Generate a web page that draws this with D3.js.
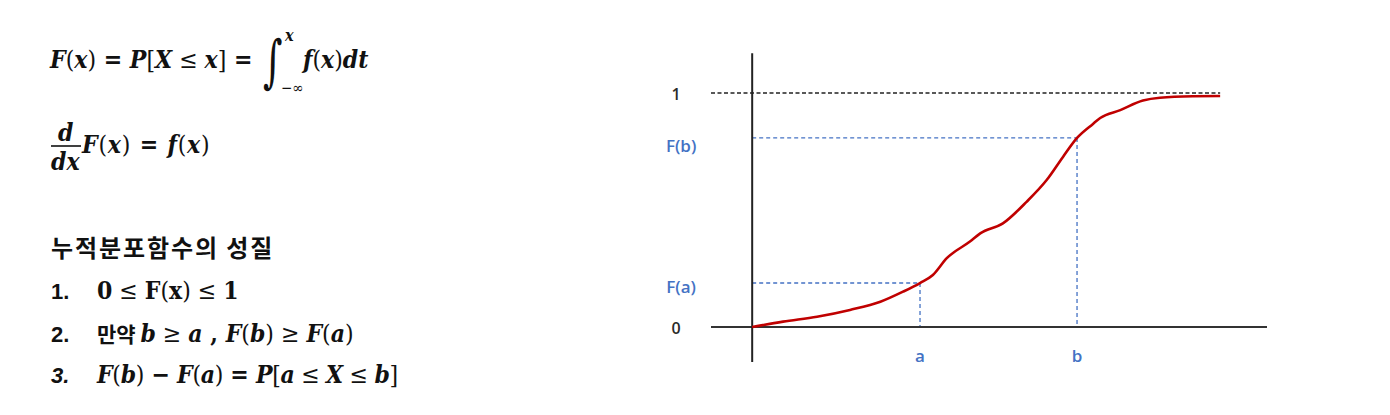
<!DOCTYPE html>
<html><head><meta charset="utf-8">
<script src="https://cdn.jsdelivr.net/npm/d3@7"></script>
<style>
body{margin:0;background:#fff}
svg{display:block}
.v{font-weight:bold;font-style:italic}
.p{font-weight:normal;font-style:normal}
.o{font-weight:bold;font-style:normal}
</style></head><body>
<svg id="c" width="1390" height="415"></svg>
<script>
// ---- data ----
const curveX = [0, 0.60, 1.26, 1.90, 2.49, 2.93, 3.26, 3.51, 3.78, 4.23, 4.43, 4.87, 5.33, 5.72, 6.04, 6.31, 6.62, 6.76, 7.15, 7.59, 7.92, 8.56, 9.09];
const curveY = [0, 0.023, 0.044, 0.073, 0.108, 0.151, 0.188, 0.222, 0.294, 0.365, 0.400, 0.443, 0.535, 0.628, 0.728, 0.808, 0.868, 0.893, 0.927, 0.968, 0.980, 0.986, 0.987];
const markerX = [3.26, 6.31];
const markerY = [0.188, 0.808];
const markerXLabels = ["a", "b"];
const markerYLabels = ["F(a)", "F(b)"];
const yTickValues = [0, 1];
const yTickLabels = ["0", "1"];
const heading = "누적분포함수의 성질";

const svg = d3.select("#c");
const x = d3.scaleLinear().domain([-0.8, 10]).range([711, 1267]);
const y = d3.scaleLinear().domain([0, 1]).range([327, 93]);

// ---- chart ----
const g = svg.append("g");
g.append("line").attr("x1", x(-0.8)).attr("x2", x(9.09)).attr("y1", y(1)).attr("y2", y(1))
  .attr("stroke", "#222").attr("stroke-width", 1.5).attr("stroke-dasharray", "4,2.5");
markerX.forEach((mx, i) => {
  const my = markerY[i];
  g.append("line").attr("x1", x(0)).attr("x2", x(mx)).attr("y1", y(my)).attr("y2", y(my))
    .attr("stroke", "#4472c4").attr("stroke-width", 1.3).attr("stroke-dasharray", "4,3");
  g.append("line").attr("x1", x(mx)).attr("x2", x(mx)).attr("y1", y(my)).attr("y2", y(0))
    .attr("stroke", "#4472c4").attr("stroke-width", 1.3).attr("stroke-dasharray", "4,3");
});
g.append("line").attr("x1", x(-0.8)).attr("x2", x(10)).attr("y1", y(0)).attr("y2", y(0))
  .attr("stroke", "#333").attr("stroke-width", 2);
g.append("line").attr("x1", x(0)).attr("x2", x(0)).attr("y1", y(-0.15)).attr("y2", y(1.17))
  .attr("stroke", "#222").attr("stroke-width", 2);
const pts = curveX.map((d, i) => [d, curveY[i]]);
g.append("path").datum(pts)
  .attr("d", d3.line().x(d => x(d[0])).y(d => y(d[1])).curve(d3.curveMonotoneX))
  .attr("fill", "none").attr("stroke", "#c00000").attr("stroke-width", 2.6).attr("stroke-linejoin", "round");
const lblFont = "'Open Sans', 'Liberation Sans', sans-serif";
yTickValues.forEach((v, i) => {
  g.append("text").attr("x", x(-1.48)).attr("y", y(v) + 7).attr("text-anchor", "middle")
    .attr("font-family", lblFont).attr("font-size", 16).attr("font-weight", 600).attr("fill", "#2a2a2a").text(yTickLabels[i]);
});
markerY.forEach((v, i) => {
  g.append("text").attr("x", x(-1.38)).attr("y", y(v) + (i === 0 ? 10 : 14)).attr("text-anchor", "middle")
    .attr("font-family", lblFont).attr("font-size", 17).attr("font-weight", 600).attr("fill", "#4472c4").text(markerYLabels[i]);
});
markerX.forEach((v, i) => {
  g.append("text").attr("x", x(v)).attr("y", y(0) + 35).attr("text-anchor", "middle")
    .attr("font-family", lblFont).attr("font-size", 17).attr("font-weight", 600).attr("fill", "#4472c4").text(markerXLabels[i]);
});

// ---- left text ----
const serif = "'DejaVu Serif Condensed', 'DejaVu Serif', serif";
const FS = 24.5;
function math(xp, yp, parts, size) {
  const t = svg.append("text").attr("x", xp).attr("y", yp).attr("font-family", serif)
    .attr("font-size", size || FS).attr("fill", "#111");
  parts.forEach(([s, c]) => t.append("tspan").attr("class", c).text(s));
  return t;
}
math(50, 68, [["F","v"],["(","p"],["x","v"],[")","p"],[" = ","o"],["P","v"],["[","p"],["X","v"],[" ≤ ","p"],["x","v"],["]","p"],[" =","o"]]);
svg.append("text").attr("transform", "translate(263,81) scale(0.85,1.3)").attr("font-family", "'DejaVu Serif', serif")
  .attr("font-size", 44).attr("fill", "#111").text("∫");
svg.append("text").attr("x", 285).attr("y", 41).attr("font-family", serif).attr("font-size", 16).attr("font-weight", "bold").attr("font-style", "italic").attr("fill", "#111").text("x");
svg.append("text").attr("x", 281).attr("y", 93).attr("font-family", serif).attr("font-size", 15).attr("fill", "#111").text("−∞");
math(303, 68, [["f","v"],["(","p"],["x","v"],[")","p"],["dt","v"]]);

math(58, 141, [["d","v"]]);
svg.append("line").attr("x1", 51).attr("x2", 81).attr("y1", 146).attr("y2", 146).attr("stroke", "#111").attr("stroke-width", 1.6);
math(51, 170, [["dx","v"]]);
math(82, 153, [["F","v"],["(","p"],["x","v"],[")","p"],["  =  ","o"],["f","v"],["(","p"],["x","v"],[")","p"]]).attr("letter-spacing", 0.8);

svg.append("text").attr("x", 51).attr("y", 257).attr("font-family", "'Noto Sans CJK KR', sans-serif")
  .attr("font-size", 24).attr("font-weight", "bold").attr("letter-spacing", 1.9).attr("fill", "#111").text(heading);

const numFont = "'Liberation Sans', Arial, sans-serif";
svg.append("text").attr("x", 51).attr("y", 299).attr("font-family", numFont).attr("font-size", 22).attr("font-weight", "bold").attr("fill", "#111").text("1.");
svg.append("text").attr("x", 51).attr("y", 342).attr("font-family", numFont).attr("font-size", 22).attr("font-weight", "bold").attr("fill", "#111").text("2.");
svg.append("text").attr("x", 51).attr("y", 383).attr("font-family", numFont).attr("font-size", 22).attr("font-weight", "bold").attr("font-style", "italic").attr("fill", "#111").text("3.");

math(97, 299, [["0","o"],[" ≤ ","p"],["F","o"],["(","p"],["x","o"],[")","p"],[" ≤ ","p"],["1","o"]]);
const t2 = svg.append("text").attr("x", 97).attr("y", 342).attr("font-family", serif).attr("font-size", FS).attr("fill", "#111");
t2.append("tspan").attr("font-family", "'Noto Sans CJK KR', sans-serif").attr("font-weight", "bold").attr("font-size", 21).text("만약 ");
[["b","v"],[" ≥ ","p"],["a","v"],[" , ","o"],["F","v"],["(","p"],["b","v"],[")","p"],[" ≥ ","p"],["F","v"],["(","p"],["a","v"],[")","p"]]
  .forEach(([s,c]) => t2.append("tspan").attr("class", c).text(s));
math(97, 383, [["F","v"],["(","p"],["b","v"],[")","p"],[" − ","o"],["F","v"],["(","p"],["a","v"],[")","p"],[" = ","o"],["P","v"],["[","p"],["a","v"],[" ≤ ","p"],["X","v"],[" ≤ ","p"],["b","v"],["]","p"]]).attr("letter-spacing", -0.3);
</script>
</body></html>
